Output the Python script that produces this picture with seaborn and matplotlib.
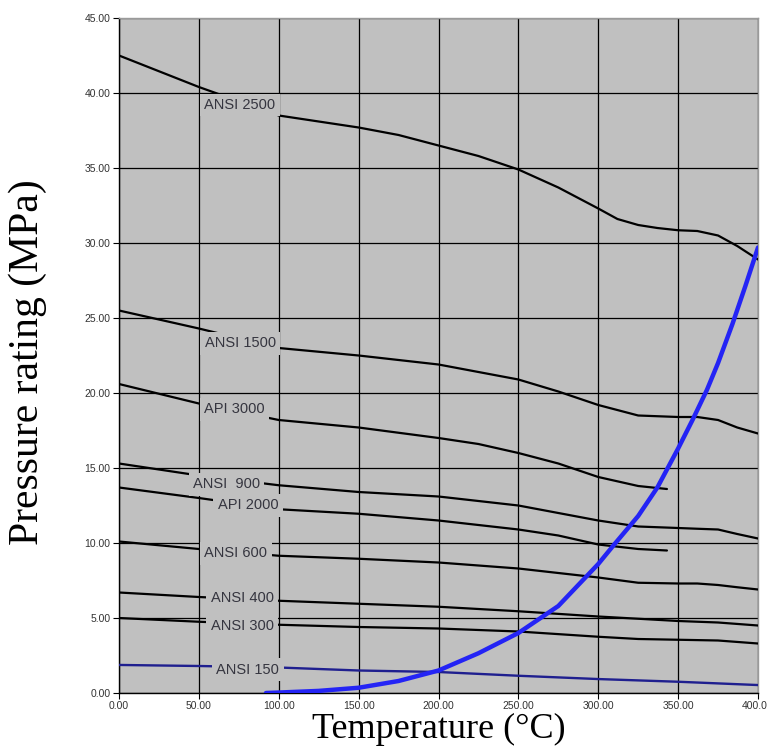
import matplotlib
matplotlib.use("Agg")
import matplotlib.pyplot as plt
import seaborn as sns
import pandas as pd

# ---------------- data ----------------
t_ansi2500 = [0, 50, 100, 125, 150, 175, 200, 225, 250, 275, 300, 312, 325, 337, 350, 362, 375, 387, 400]
p_ansi2500 = [42.5, 40.4, 38.5, 38.1, 37.7, 37.2, 36.5, 35.8, 34.9, 33.7, 32.3, 31.6, 31.2, 31.0, 30.85, 30.8, 30.5, 29.8, 28.9]

t_ansi1500 = [0, 50, 100, 150, 200, 225, 250, 275, 300, 325, 350, 362, 375, 387, 400]
p_ansi1500 = [25.5, 24.3, 23.0, 22.5, 21.9, 21.4, 20.9, 20.1, 19.2, 18.5, 18.4, 18.4, 18.2, 17.7, 17.3]

t_api3000 = [0, 50, 100, 150, 200, 225, 250, 275, 300, 325, 343]
p_api3000 = [20.6, 19.3, 18.2, 17.7, 17.0, 16.6, 16.0, 15.3, 14.4, 13.8, 13.6]

t_ansi900 = [0, 50, 100, 150, 200, 250, 275, 300, 325, 350, 362, 375, 387, 400]
p_ansi900 = [15.3, 14.5, 13.85, 13.4, 13.1, 12.5, 12.0, 11.5, 11.1, 11.0, 10.95, 10.9, 10.6, 10.3]

t_api2000 = [0, 50, 100, 150, 200, 250, 275, 300, 325, 343]
p_api2000 = [13.7, 13.0, 12.25, 11.95, 11.5, 10.9, 10.5, 9.9, 9.6, 9.5]

t_ansi600 = [0, 50, 100, 150, 200, 250, 275, 300, 325, 350, 362, 375, 387, 400]
p_ansi600 = [10.1, 9.6, 9.15, 8.95, 8.7, 8.3, 8.0, 7.7, 7.35, 7.3, 7.3, 7.2, 7.05, 6.9]

t_ansi400 = [0, 50, 100, 150, 200, 250, 300, 350, 375, 400]
p_ansi400 = [6.7, 6.4, 6.15, 5.95, 5.75, 5.45, 5.1, 4.8, 4.7, 4.5]

t_ansi300 = [0, 50, 100, 150, 200, 250, 300, 325, 350, 375, 400]
p_ansi300 = [5.0, 4.75, 4.55, 4.4, 4.3, 4.1, 3.75, 3.6, 3.55, 3.5, 3.3]

t_ansi150 = [0, 50, 100, 150, 200, 250, 300, 350, 400]
p_ansi150 = [1.87, 1.8, 1.7, 1.5, 1.4, 1.15, 0.93, 0.75, 0.53]

t_blue = [92, 100, 125, 150, 175, 200, 225, 250, 275, 300, 310, 325, 337, 350, 359, 368, 375, 384, 392, 400]
p_blue = [0.0, 0.03, 0.14, 0.35, 0.8, 1.5, 2.65, 4.0, 5.8, 8.6, 9.9, 11.8, 13.7, 16.3, 18.2, 20.2, 22.0, 24.6, 27.1, 29.7]

label_names = ["ANSI 2500", "ANSI 1500", "API 3000", "ANSI  900", "API 2000",
               "ANSI 600", "ANSI 400", "ANSI 300", "ANSI 150"]
label_t = [75.7, 76.0, 72.3, 67.3, 80.7, 73.2, 77.0, 77.0, 80.7]
label_p = [39.2, 23.3, 18.9, 13.9, 12.5, 9.3, 6.3, 4.5, 1.55]

x_ticks = [0, 50, 100, 150, 200, 250, 300, 350, 400]
y_ticks = [0, 5, 10, 15, 20, 25, 30, 35, 40, 45]

# ---------------- figure ----------------
sns.set_style("white")
plt.rcParams['font.family'] = ['Liberation Sans', 'DejaVu Sans']

fig = plt.figure(figsize=(7.67, 7.56), dpi=100)
ax = fig.add_axes([119 / 767, 1 - 693 / 756, 639 / 767, 675 / 756])
ax.set_facecolor('#c0c0c0')

black_series = [(t_ansi2500, p_ansi2500), (t_ansi1500, p_ansi1500), (t_api3000, p_api3000),
                (t_ansi900, p_ansi900), (t_api2000, p_api2000), (t_ansi600, p_ansi600),
                (t_ansi400, p_ansi400), (t_ansi300, p_ansi300)]
for t, p in black_series:
    df = pd.DataFrame({"T": t, "P": p})
    sns.lineplot(data=df, x="T", y="P", ax=ax, color='black', lw=1.6,
                 estimator=None, sort=False, zorder=3)

sns.lineplot(data=pd.DataFrame({"T": t_ansi150, "P": p_ansi150}), x="T", y="P", ax=ax,
             color='#1f1f8f', lw=1.7, estimator=None, sort=False, zorder=3)
sns.lineplot(data=pd.DataFrame({"T": t_blue, "P": p_blue}), x="T", y="P", ax=ax,
             color='#2424f5', lw=3.2, estimator=None, sort=False, zorder=4)

for name, tx, py in zip(label_names, label_t, label_p):
    ax.text(tx, py, name, ha='center', va='center', fontsize=10.5, color='#35353f',
            zorder=6, bbox=dict(boxstyle='square,pad=0.3', fc='#c0c0c0', ec='none'))

ax.set_xlim(0, 400)
ax.set_ylim(0, 45)
ax.set_xticks(x_ticks)
ax.set_yticks(y_ticks)
ax.set_xticklabels([f"{v:.2f}" for v in x_ticks])
ax.set_yticklabels([f"{v:.2f}" for v in y_ticks])
ax.grid(True, color='black', lw=0.9, zorder=1)
ax.set_axisbelow(True)
ax.tick_params(axis='both', direction='out', length=4, width=0.8, labelcolor='#333333',
               color='black', labelsize=7.5, pad=2, left=True, bottom=True)

for s in ['left', 'bottom']:
    ax.spines[s].set_color('black')
    ax.spines[s].set_linewidth(1.0)
for s in ['top', 'right']:
    ax.spines[s].set_color('#9a9a9a')
    ax.spines[s].set_linewidth(1.0)

ax.set_xlabel("Temperature (°C)", fontsize=26, family=['Liberation Serif', 'DejaVu Serif'],
              color='black')
ax.set_ylabel("Pressure rating (MPa)", fontsize=30, family=['Liberation Serif', 'DejaVu Serif'],
              color='black')
ax.xaxis.set_label_coords(0.5, -0.03)
ax.yaxis.set_label_coords(-0.113, 0.49)

fig.savefig("out.png", dpi=100)
